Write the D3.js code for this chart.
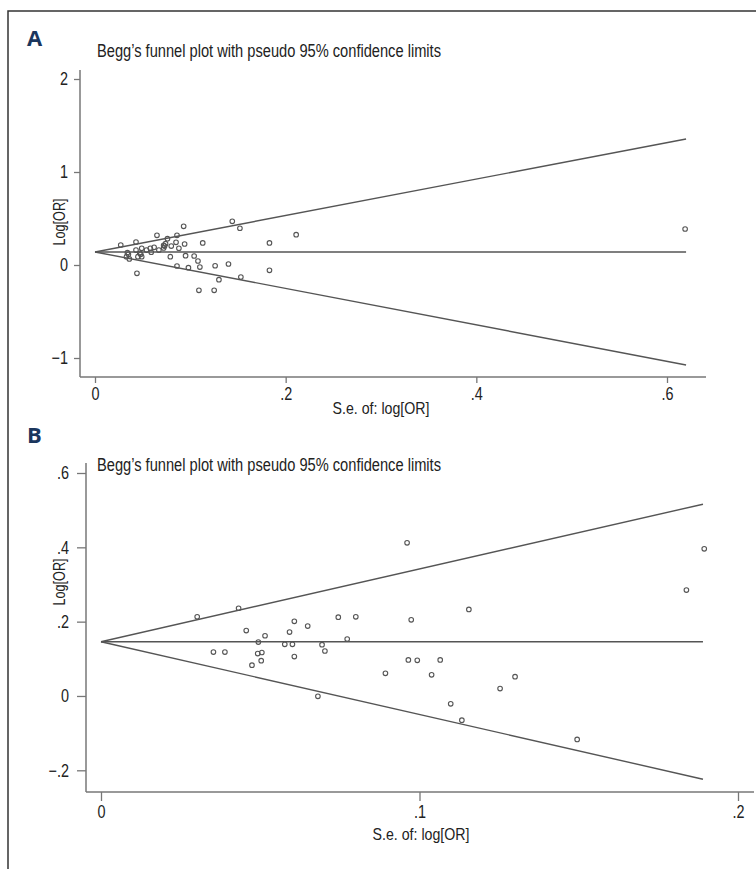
<!DOCTYPE html>
<html>
<head>
<meta charset="utf-8">
<script src="https://d3js.org/d3.v7.min.js"></script>
<style>
  body { margin: 0; background: #fff; }
  text { font-family: "Liberation Sans", Arial, sans-serif; fill: #222; }
</style>
</head>
<body>
<div id="chart"></div>
<script>
// ---- panel A data ----
var seA = [0.027, 0.043, 0.044, 0.065, 0.076, 0.086, 0.093, 0.085, 0.094, 0.113,
           0.144, 0.152, 0.183, 0.211, 0.183, 0.153, 0.140, 0.126, 0.130, 0.125,
           0.109, 0.110, 0.108, 0.104, 0.095, 0.098, 0.086, 0.079, 0.088, 0.080,
           0.073, 0.072, 0.067, 0.062, 0.058, 0.059, 0.054, 0.049, 0.047, 0.048,
           0.043, 0.045, 0.035, 0.033, 0.036, 0.034, 0.049, 0.074, 0.072, 0.619];
var lorA = [0.215, 0.247, -0.089, 0.319, 0.283, 0.319, 0.416, 0.244, 0.226, 0.237,
            0.470, 0.395, 0.237, 0.326, -0.057, -0.129, 0.011, -0.008, -0.158, -0.272,
            -0.272, -0.022, 0.043, 0.097, 0.100, -0.029, -0.011, 0.089, 0.180, 0.204,
            0.204, 0.183, 0.161, 0.190, 0.180, 0.137, 0.161, 0.180, 0.126, 0.115,
            0.161, 0.089, 0.115, 0.089, 0.065, 0.132, 0.089, 0.229, 0.212, 0.387];
var funnelSeA = [0, 0.62];
var upperA = [0.14, 1.355];
var lowerA = [0.14, -1.075];
var pooledA = [0.14, 0.14];
var xTicksA = [0, 0.2, 0.4, 0.6];
var xLabelsA = ["0", ".2", ".4", ".6"];
var yTicksA = [-1, 0, 1, 2];
var yLabelsA = ["\u22121", "0", "1", "2"];

// ---- panel B data ----
var seB = [0.0302, 0.0432, 0.0456, 0.0515, 0.0494, 0.0353, 0.0389, 0.0492, 0.0505, 0.0503,
           0.0474, 0.0607, 0.0592, 0.0649, 0.0577, 0.0601, 0.0607, 0.0745, 0.0800, 0.0773,
           0.0694, 0.0703, 0.0681, 0.0974, 0.0965, 0.0993, 0.1065, 0.0893, 0.1038, 0.1098,
           0.0961, 0.1155, 0.1838, 0.1894, 0.1300, 0.1253, 0.1133, 0.1495];
var lorB = [0.213, 0.236, 0.176, 0.162, 0.145, 0.118, 0.118, 0.114, 0.117, 0.095,
            0.083, 0.201, 0.172, 0.188, 0.139, 0.139, 0.106, 0.212, 0.213, 0.153,
            0.138, 0.121, -0.001, 0.205, 0.097, 0.096, 0.097, 0.061, 0.057, -0.021,
            0.412, 0.233, 0.285, 0.396, 0.052, 0.020, -0.065, -0.117];
var funnelSeB = [0, 0.189];
var upperB = [0.146, 0.516];
var lowerB = [0.146, -0.224];
var pooledB = [0.146, 0.146];
var xTicksB = [0, 0.1, 0.2];
var xLabelsB = ["0", ".1", ".2"];
var yTicksB = [-0.2, 0, 0.2, 0.4, 0.6];
var yLabelsB = ["\u2212.2", "0", ".2", ".4", ".6"];

var title = "Begg\u2019s funnel plot with pseudo 95% confidence limits";

var svg = d3.select("#chart").append("svg")
  .attr("width", 756).attr("height", 869);

// squeeze text horizontally, the original uses a condensed face
function condense(sel, factor) {
  sel.each(function () {
    var w = this.getComputedTextLength();
    d3.select(this).attr("textLength", w * factor).attr("lengthAdjust", "spacingAndGlyphs");
  });
}

// outer frame (top and left edges visible)
svg.append("path")
  .attr("d", "M8,869 L8,11 L756,11")
  .attr("fill", "none").attr("stroke", "#333").attr("stroke-width", 1.5);

function drawPanel(p) {
  var g = svg.append("g");
  var x = d3.scaleLinear().domain(p.xDomain).range(p.xRange);
  var y = d3.scaleLinear().domain(p.yDomain).range(p.yRange);

  g.append("text").text(p.letter)
    .attr("x", 27).attr("y", p.letterY)
    .style("font-family", "'Open Sans', 'DejaVu Sans', sans-serif")
    .style("font-weight", "bold").style("font-size", "22px")
    .style("fill", "#1b365d");

  g.append("text").text(title)
    .attr("x", 97).attr("y", p.titleY)
    .style("font-size", "17.5px")
    .attr("textLength", 344).attr("lengthAdjust", "spacingAndGlyphs");

  // axes
  var xAxis = d3.axisBottom(x).tickValues(p.xTicks)
    .tickFormat(function (d, i) { return p.xLabels[i]; })
    .tickSizeOuter(0).tickSize(p.tickLen).tickPadding(4);
  var gx = g.append("g").attr("transform", "translate(0," + p.axisY + ")").call(xAxis);
  var yAxis = d3.axisLeft(y).tickValues(p.yTicks)
    .tickFormat(function (d, i) { return p.yLabels[i]; })
    .tickSizeOuter(0).tickSize(p.tickLen).tickPadding(p.yPad);
  var gy = g.append("g").attr("transform", "translate(" + p.axisX + ",0)").call(yAxis);
  [gx, gy].forEach(function (a) {
    a.select(".domain").remove();
    a.selectAll(".tick line").attr("stroke", "#777").attr("stroke-width", 1.3);
    a.selectAll(".tick text").style("font-size", "18px").style("fill", "#222")
      .style("font-family", null);
    condense(a.selectAll(".tick text"), 0.8);
  });
  g.append("line").attr("x1", p.axisX).attr("x2", p.axisX)
    .attr("y1", p.yAxisTop).attr("y2", p.axisY)
    .attr("stroke", "#777").attr("stroke-width", 1.5);
  g.append("line").attr("x1", p.axisX).attr("x2", p.xAxisRight)
    .attr("y1", p.axisY).attr("y2", p.axisY)
    .attr("stroke", "#777").attr("stroke-width", 1.5);

  g.append("text").text("S.e. of: log[OR]")
    .attr("x", p.xTitleX).attr("y", p.xTitleY)
    .attr("text-anchor", "middle").style("font-size", "16.5px")
    .attr("textLength", 97).attr("lengthAdjust", "spacingAndGlyphs");
  g.append("text").text("Log[OR]")
    .attr("transform", "translate(" + p.yTitleX + "," + p.yTitleY + ") rotate(-90)")
    .attr("text-anchor", "middle").style("font-size", "16.5px")
    .attr("textLength", 47).attr("lengthAdjust", "spacingAndGlyphs");

  // funnel lines
  var line = d3.line().x(function (d) { return x(d[0]); }).y(function (d) { return y(d[1]); });
  [p.upper, p.pooled, p.lower].forEach(function (vals) {
    g.append("path")
      .datum(p.funnelSe.map(function (s, i) { return [s, vals[i]]; }))
      .attr("d", line).attr("fill", "none")
      .attr("stroke", "#555").attr("stroke-width", 1.4);
  });

  // study points
  g.selectAll("circle.pt").data(p.se).enter().append("circle")
    .attr("class", "pt")
    .attr("cx", function (d) { return x(d); })
    .attr("cy", function (d, i) { return y(p.lor[i]); })
    .attr("r", 2.3)
    .attr("fill", "none").attr("stroke", "#555").attr("stroke-width", 1.1);
}

drawPanel({
  letter: "A", letterY: 46, titleY: 57,
  xDomain: [0, 0.6], xRange: [95, 667],
  yDomain: [-1, 2], yRange: [358, 79],
  axisX: 80, axisY: 377, yAxisTop: 70, xAxisRight: 706,
  tickLen: 6, yPad: 6,
  xTicks: xTicksA, xLabels: xLabelsA, yTicks: yTicksA, yLabels: yLabelsA,
  xTitleX: 381, xTitleY: 414, yTitleX: 65, yTitleY: 222,
  se: seA, lor: lorA,
  funnelSe: funnelSeA, upper: upperA, lower: lowerA, pooled: pooledA
});

drawPanel({
  letter: "B", letterY: 443, titleY: 471,
  xDomain: [0, 0.2], xRange: [101, 738],
  yDomain: [-0.2, 0.6], yRange: [770.3, 473],
  axisX: 86, axisY: 792, yAxisTop: 463, xAxisRight: 754,
  tickLen: 9, yPad: 8,
  xTicks: xTicksB, xLabels: xLabelsB, yTicks: yTicksB, yLabels: yLabelsB,
  xTitleX: 421, xTitleY: 840, yTitleX: 65, yTitleY: 582,
  se: seB, lor: lorB,
  funnelSe: funnelSeB, upper: upperB, lower: lowerB, pooled: pooledB
});
</script>
</body>
</html>
